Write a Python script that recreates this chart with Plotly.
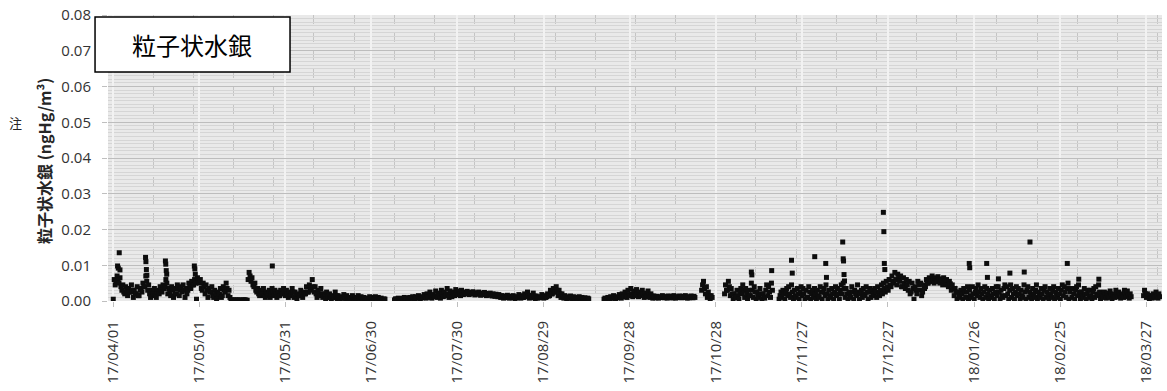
import datetime as dt
import plotly.graph_objects as go

# Particulate mercury, three readings per day (02:00, 10:00, 18:00),
# stored in units of 0.0001 ngHg/m3; None = no measurement.
UNIT = 1e-4
READ_HOURS = [2, 10, 18]

apr17 = [(5, 60, 45), (55, 70, 60), (50, 65, 40), (30, 45, 25), (20, 40, 30), (15, 35, 25),
         (25, 45, 30), (10, 30, 20), (20, 40, 15), (15, 30, 35), (25, 50, 40), (40, 70, 55),
         (30, 45, 20), (10, 25, 30), (20, 35, 15), (10, 30, 25), (20, 40, 30), (25, 45, 35),
         (40, 60, 50), (20, 35, 25), (15, 40, 30), (10, 35, 20), (20, 45, 35), (15, 30, 40),
         (25, 45, 30), (10, 35, 20), (30, 50, 40), (35, 55, 45), (45, 60, 50), (5, 65, 55)]
may17 = [(50, 60, 35), (30, 50, 40), (20, 45, 30), (10, 35, 25), (25, 40, 15), (10, 30, 20),
         (5, 25, 15), (20, 35, 10), (15, 40, 30), (25, 50, 35), (15, 30, 10), (2, 3, 2),
         (3, 2, 3), (2, 3, 2), (3, 2, 2), (2, 3, 3), (3, 2, 2), (60, 80, 70), (55, 65, 45),
         (40, 50, 30), (25, 35, 20), (15, 30, 25), (20, 35, 15), (10, 25, 20), (15, 30, 10),
         (20, 35, 25), (15, 30, 20), (10, 25, 15), (15, 30, 20), (20, 35, 25), (15, 30, 20)]
jun17 = [(10, 25, 15), (20, 35, 25), (10, 25, 15), (5, 20, 15), (15, 30, 20), (10, 25, 20),
         (20, 40, 25), (25, 45, 30), (35, 60, 40), (25, 40, 20), (10, 30, 20), (15, 35, 20),
         (10, 20, 15), (5, 25, 15), (10, 20, 10), (5, 15, 10), (10, 25, 15), (5, 15, 8),
         (3, 12, 8), (8, 18, 10), (5, 15, 5), (3, 10, 8), (5, 15, 10), (3, 10, 5),
         (8, 15, 5), (3, 12, 8), (5, 10, 5), (3, 8, 5), (5, 12, 8), (3, 10, 5)]
jul17 = [(5, 12, 8), (3, 10, 5), (5, 8, 3), (3, 6, 5), None, None, None, (3, 6, 5),
         (5, 8, 5), (3, 7, 5), (5, 10, 6), (6, 9, 5), (5, 10, 8), (8, 12, 6), (5, 12, 8),
         (8, 15, 10), (6, 12, 9), (10, 18, 12), (8, 20, 12), (10, 25, 15), (8, 18, 12),
         (12, 28, 15), (10, 22, 15), (8, 30, 20), (12, 25, 15), (15, 35, 20), (10, 28, 18),
         (12, 25, 20), (15, 32, 22), (18, 28, 20), (15, 30, 22)]
aug17 = [(18, 25, 22), (20, 27, 23), (18, 24, 21), (20, 26, 22), (17, 23, 20), (19, 25, 21),
         (16, 22, 19), (18, 24, 20), (15, 21, 18), (16, 22, 18), (14, 20, 17), (13, 19, 15),
         (12, 18, 14), (10, 15, 12), (8, 14, 10), (10, 16, 12), (8, 13, 10), (9, 15, 11),
         (7, 12, 9), (10, 18, 12), (8, 15, 10), (10, 20, 14), (12, 25, 15), (8, 16, 10),
         (10, 22, 14), (7, 14, 9), (8, 12, 10), (10, 18, 12), (8, 15, 10), (12, 20, 14),
         (15, 30, 20)]
sep17 = [(20, 35, 25), (25, 40, 30), (15, 30, 20), (10, 20, 12), (8, 15, 10), (5, 12, 8),
         (8, 14, 10), (6, 12, 8), (5, 10, 7), (7, 12, 9), (5, 10, 6), (6, 9, 5), (5, 8, 6),
         None, None, None, None, None, (5, 8, 6), (6, 10, 7), (5, 12, 8), (8, 15, 10),
         (6, 12, 9), (10, 18, 12), (8, 20, 12), (12, 25, 15), (10, 30, 18), (15, 35, 20),
         (12, 28, 18), (15, 32, 20)]
oct17 = [(12, 25, 18), (15, 30, 20), (10, 22, 15), (12, 28, 18), (10, 20, 14), (8, 14, 10),
         (9, 13, 10), (8, 12, 10), (10, 15, 12), (9, 12, 10), (8, 14, 11), (10, 13, 9),
         (9, 15, 11), (8, 12, 10), (10, 14, 12), (9, 13, 10), (10, 15, 11), (8, 12, 9),
         (10, 14, 11), (9, 13, 10), None, None, (30, 45, 55), (35, 20, 40), (10, 25, 15),
         (5, 15, 10), None, None, None, None, (20, 45, 30)]
nov17 = [(30, 55, 40), (15, 35, 20), (5, 20, 10), (10, 30, 15), (5, 25, 35), (20, 45, 30),
         (10, 35, 20), (5, 30, 15), (15, 50, 30), (10, 40, 25), (5, 25, 15), (10, 35, 20),
         (5, 20, 10), (8, 30, 45), (15, 40, 25), (10, 50, 30), None, None, (5, 15, 25),
         (10, 30, 20), (5, 25, 35), (15, 40, 20), (10, 45, 25), (5, 30, 15), (10, 35, 20),
         (5, 25, 40), (15, 35, 20), (5, 30, 10), (10, 40, 25), (5, 20, 30)]
dec17 = [(10, 35, 20), (5, 30, 15), (10, 40, 25), (5, 25, 35), (15, 45, 20), (5, 30, 15),
         (10, 35, 20), (5, 25, 40), (15, 35, 20), (5, 30, 45), (20, 50, 35), (10, 35, 20),
         (5, 25, 15), (10, 40, 25), (5, 30, 20), (15, 45, 25), (5, 20, 30), (10, 35, 20),
         (15, 40, 25), (5, 25, 35), (10, 30, 20), (15, 35, 25), (10, 40, 20), (15, 30, 45),
         (20, 50, 35), (25, 55, 40), (30, 60, 45), (40, 70, 55), (50, 80, 60), (45, 75, 65),
         (55, 70, 40)]
jan18 = [(40, 65, 50), (35, 60, 45), (30, 55, 20), (25, 50, 35), (5, 40, 30), (20, 55, 45),
         (30, 50, 15), (25, 45, 35), (40, 60, 50), (50, 65, 55), (55, 70, 60), (50, 65, 55),
         (55, 68, 60), (50, 62, 58), (45, 65, 55), (50, 60, 45), (40, 55, 48), (30, 45, 35),
         (15, 35, 25), (5, 25, 15), (10, 30, 20), (5, 35, 25), (10, 25, 40), (5, 30, 15),
         (10, 40, 20), (5, 25, 35), (15, 45, 25), (10, 35, 20), (5, 25, 40), (10, 35, 20),
         (5, 30, 15)]
feb18 = [(10, 35, 20), (5, 25, 40), (15, 40, 25), (5, 30, 15), (10, 35, 45), (15, 40, 20),
         (5, 30, 45), (10, 35, 20), (5, 25, 40), (15, 35, 20), (5, 30, 15), (10, 45, 25),
         (5, 30, 40), (10, 25, 15), (5, 35, 20), (10, 30, 45), (5, 25, 15), (10, 35, 20),
         (5, 30, 40), (10, 25, 15), (5, 35, 20), (10, 30, 40), (5, 25, 15), (10, 35, 20),
         (5, 30, 45), (15, 40, 25), (10, 35, 50), (5, 25, 35)]
mar18 = [(10, 35, 20), (5, 30, 40), (15, 45, 25), (5, 25, 15), (10, 35, 20), (5, 20, 30),
         (10, 30, 15), (5, 25, 35), (10, 40, 20), (15, 45, 25), (5, 20, 15), (10, 25, 18),
         (8, 22, 15), (10, 28, 20), (6, 18, 12), (10, 30, 22), (12, 25, 18), (8, 20, 14),
         (10, 30, 22), (12, 28, 18), (8, 20, 12), None, None, None, None, (15, 30, 20),
         (10, 20, 15), (5, 15, 10), (8, 20, 12), (10, 25, 15), (8, 20, 12)]

months = [((2017, 4), apr17), ((2017, 5), may17), ((2017, 6), jun17), ((2017, 7), jul17),
          ((2017, 8), aug17), ((2017, 9), sep17), ((2017, 10), oct17), ((2017, 11), nov17),
          ((2017, 12), dec17), ((2018, 1), jan18), ((2018, 2), feb18), ((2018, 3), mar18)]

# Isolated high readings (ngHg/m3)
peak_times = ["2017-04-02 14:00", "2017-04-02 20:00", "2017-04-03 04:00", "2017-04-03 10:00",
              "2017-04-12 08:00", "2017-04-12 11:00", "2017-04-12 15:00", "2017-04-12 19:00",
              "2017-04-19 06:00", "2017-04-19 09:00", "2017-04-19 13:00", "2017-04-19 17:00",
              "2017-04-29 08:00", "2017-04-29 12:00", "2017-04-29 16:00", "2017-05-26 12:00",
              "2017-11-09 10:00", "2017-11-09 14:00", "2017-11-16 12:00",
              "2017-11-23 10:00", "2017-11-23 16:00", "2017-12-01 12:00",
              "2017-12-05 08:00", "2017-12-05 14:00",
              "2017-12-11 06:00", "2017-12-11 10:00", "2017-12-11 13:00", "2017-12-11 17:00",
              "2017-12-11 21:00", "2017-12-25 10:00", "2017-12-25 14:00", "2017-12-25 18:00",
              "2017-12-25 22:00", "2018-01-24 08:00", "2018-01-24 12:00", "2018-01-30 10:00",
              "2018-01-30 16:00", "2018-02-03 12:00", "2018-02-07 12:00", "2018-02-12 12:00",
              "2018-02-14 12:00", "2018-02-27 12:00", "2018-03-03 12:00", "2018-03-10 12:00"]
peak_vals = [0.0098, 0.0092, 0.0135, 0.0087,
             0.0122, 0.0110, 0.0088, 0.0072,
             0.0112, 0.0103, 0.0085, 0.0075,
             0.0098, 0.0090, 0.0075, 0.0098,
             0.0081, 0.0073, 0.0085,
             0.0114, 0.0078, 0.0124,
             0.0105, 0.0066,
             0.0165, 0.0118, 0.0112, 0.0074,
             0.0056, 0.0248, 0.0194, 0.0105,
             0.0088, 0.0105, 0.0093, 0.0105,
             0.0066, 0.0062, 0.0078, 0.0081,
             0.0165, 0.0105, 0.0061, 0.0061]

xs, ys = [], []
for (yr, mo), days in months:
    for i, day in enumerate(days):
        if day is None:
            continue
        for h, v in zip(READ_HOURS, day):
            xs.append(dt.datetime(yr, mo, i + 1, h))
            ys.append(v * UNIT)
xs += [dt.datetime.strptime(t, "%Y-%m-%d %H:%M") for t in peak_times]
ys += peak_vals

DAY_MS = 86400000
tick_font = dict(family="Open Sans, Liberation Sans, sans-serif", size=15, color="#333333")

fig = go.Figure(go.Scatter(
    x=xs, y=ys, mode="markers",
    marker=dict(symbol="square", size=5, color="#0d0d0d", line=dict(width=0)),
    hoverinfo="skip", showlegend=False,
))

fig.update_layout(
    width=1167, height=391, autosize=False,
    margin=dict(l=108, r=5, t=15, b=90),
    paper_bgcolor="white", plot_bgcolor="#e9e9e9",
    xaxis=dict(
        type="date", range=["2017-03-30 06:00", "2018-04-01 12:00"],
        tick0="2017-04-01", dtick=30 * DAY_MS, tickformat="%y/%m/%d", tickangle=-90,
        tickfont=tick_font, ticks="outside", ticklen=5, tickcolor="#bfbfbf",
        ticklabelstandoff=8,
        showgrid=True, gridcolor="#f2f2f2", gridwidth=1.5,
        minor=dict(dtick=14 * DAY_MS, tick0="2017-04-15", showgrid=True,
                   gridcolor="#c4c4c4", griddash="dash", gridwidth=1),
        zeroline=False, showline=False,
    ),
    yaxis=dict(
        range=[0, 0.08], dtick=0.01, tickformat=".2f",
        tickfont=tick_font, ticks="outside", ticklen=5, tickcolor="#bfbfbf",
        ticklabelstandoff=8,
        showgrid=True, gridcolor="#bdbdbd", gridwidth=1,
        minor=dict(dtick=0.001, showgrid=True, gridcolor="#d5d5d5", gridwidth=1),
        zeroline=False, showline=False,
    ),
    shapes=[dict(type="rect", xref="paper", yref="paper",
                 x0=-0.0123, x1=0.1727, y0=0.8007, y1=0.993,
                 line=dict(color="black", width=1.5), fillcolor="white", layer="above")],
    annotations=[
        dict(text="粒子状水銀", xref="paper", yref="paper", x=0.0797, y=0.8986,
             showarrow=False, xanchor="center", yanchor="middle",
             font=dict(family="Noto Sans CJK JP", size=24, color="black")),
        dict(text="<b>粒子状水銀 (ngHg/m³)</b>", xref="paper", yref="paper",
             x=-0.0607, y=0.49, textangle=-90, showarrow=False,
             xanchor="center", yanchor="middle",
             font=dict(family="Noto Sans CJK JP", size=16, color="#262626")),
        dict(text="注", xref="paper", yref="paper", x=-0.0873, y=0.6245,
             showarrow=False, xanchor="center", yanchor="middle",
             font=dict(family="Noto Sans CJK JP", size=13, color="#262626")),
    ],
)

fig.write_html("out.html")
